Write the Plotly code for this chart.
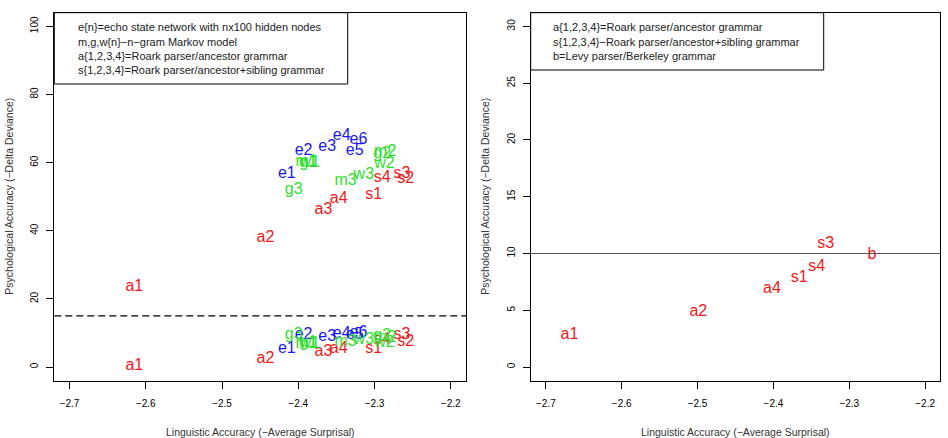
import plotly.graph_objects as go

# ---------------- data ----------------
left_labels = ["a1", "a2", "a3", "a4", "s1", "s2", "s3", "s4",
               "e1", "e2", "e3", "e4", "e5", "e6",
               "m1", "g1", "w1", "m2", "g2", "w2", "m3", "g3", "w3"]
left_x = [-2.615, -2.443, -2.367, -2.347, -2.301, -2.259, -2.264, -2.290,
          -2.415, -2.393, -2.362, -2.343, -2.326, -2.321,
          -2.389, -2.387, -2.385, -2.286, -2.290, -2.287, -2.338, -2.406, -2.314]
left_y_upper = [23.4, 37.8, 46.0, 49.4, 50.4, 55.3, 56.8, 55.6,
                56.8, 63.4, 64.6, 67.7, 63.4, 66.5,
                60.1, 59.8, 59.9, 63.0, 62.6, 59.7, 54.6, 51.9, 56.3]
left_y_lower = [0.2, 2.5, 4.4, 5.4, 5.4, 7.3, 9.3, 7.8,
                5.4, 9.3, 8.8, 9.8, 9.5, 10.0,
                6.9, 7.2, 6.9, 8.4, 9.0, 7.2, 7.3, 9.3, 7.8]
left_threshold = 15

right_labels = ["a1", "a2", "a4", "s1", "s4", "s3", "b"]
right_x = [-2.669, -2.499, -2.402, -2.366, -2.343, -2.331, -2.270]
right_y = [2.8, 4.84, 6.84, 7.87, 8.8, 10.86, 9.9]
right_threshold = 10

x_ticks = [-2.7, -2.6, -2.5, -2.4, -2.3, -2.2]
left_y_ticks = [0, 20, 40, 60, 80, 100]
right_y_ticks = [0, 5, 10, 15, 20, 25, 30]

left_legend = ["e{n}=echo state network with nx100 hidden nodes",
               "m,g,w{n}\u2212n\u2212gram Markov model",
               "a{1,2,3,4}=Roark parser/ancestor grammar",
               "s{1,2,3,4}=Roark parser/ancestor+sibling grammar"]
right_legend = ["a{1,2,3,4}=Roark parser/ancestor grammar",
                "s{1,2,3,4}\u2212Roark parser/ancestor+sibling grammar",
                "b=Levy parser/Berkeley grammar"]

x_title = "Linguistic Accuracy (\u2212Average Surprisal)"
y_title = "Psychological Accuracy (\u2212Delta Deviance)"

# ---------------- style ----------------
RED, BLUE, GREEN = "#f01818", "#1818f0", "#2ee02e"
FONT = "Liberation Sans, Arial, sans-serif"
W, H = 948, 438


def color_of(lbl):
    c = lbl[0]
    if c in "asb":
        return RED
    if c == "e":
        return BLUE
    return GREEN


left_colors = [color_of(l) for l in left_labels]
right_colors = [color_of(l) for l in right_labels]

fig = go.Figure()
for ys in (left_y_upper, left_y_lower):
    fig.add_trace(go.Scatter(x=left_x, y=ys, text=left_labels, mode="text",
                             textposition="middle center",
                             textfont=dict(family=FONT, size=16, color=left_colors),
                             xaxis="x", yaxis="y", showlegend=False, hoverinfo="skip"))
fig.add_trace(go.Scatter(x=right_x, y=right_y, text=right_labels, mode="text",
                         textposition="middle center",
                         textfont=dict(family=FONT, size=16, color=right_colors),
                         xaxis="x2", yaxis="y2", showlegend=False, hoverinfo="skip"))

# pixel geometry of plot boxes
Lx0, Lx1 = 54.3, 466.0
Rx0, Rx1 = 530.7, 940.3
Yt, Yb = 12.7, 380.7
ydom = [(H - Yb) / H, (H - Yt) / H]

axis_common = dict(showgrid=False, zeroline=False, showline=True, mirror=True,
                   linecolor="black", linewidth=1, ticks="outside", ticklen=7,
                   tickcolor="black", tickwidth=1,
                   tickfont=dict(family=FONT, size=10, color="black"))

fig.update_layout(
    width=W, height=H, margin=dict(l=0, r=0, t=0, b=0),
    paper_bgcolor="white", plot_bgcolor="white",
    xaxis=dict(domain=[Lx0 / W, Lx1 / W], range=[-2.72, -2.18], tickvals=x_ticks,
               tickformat=".1f", anchor="y", ticklabelstandoff=6, **axis_common),
    yaxis=dict(domain=ydom, range=[-4, 104], tickvals=left_y_ticks, anchor="x",
               tickangle=-90, ticklabelstandoff=4, **axis_common),
    xaxis2=dict(domain=[Rx0 / W, Rx1 / W], range=[-2.72, -2.18], tickvals=x_ticks,
                tickformat=".1f", anchor="y2", ticklabelstandoff=6, **axis_common),
    yaxis2=dict(domain=ydom, range=[-1.2, 31.2], tickvals=right_y_ticks, anchor="x2",
                tickangle=-90, ticklabelstandoff=4, **axis_common),
)

shapes = [
    dict(type="line", xref="x domain", yref="y", x0=0, x1=1, y0=left_threshold,
         y1=left_threshold, line=dict(color="black", width=1.2, dash="7px,4px")),
    dict(type="line", xref="x2 domain", yref="y2", x0=0, x1=1, y0=right_threshold,
         y1=right_threshold, line=dict(color="#555555", width=1.2)),
    # legend boxes
    dict(type="rect", xref="x domain", yref="y domain", x0=0, x1=(347.7 - Lx0) / (Lx1 - Lx0),
         y0=(Yb - 84.0) / (Yb - Yt), y1=1, line=dict(color="black", width=1),
         fillcolor="white"),
    dict(type="rect", xref="x2 domain", yref="y2 domain", x0=0, x1=(823.7 - Rx0) / (Rx1 - Rx0),
         y0=(Yb - 70.0) / (Yb - Yt), y1=1, line=dict(color="black", width=1),
         fillcolor="white"),
]
fig.update_layout(shapes=shapes)

annotations = []
for i, t in enumerate(left_legend):
    annotations.append(dict(text=t, xref="paper", yref="paper", x=76 / W,
                            y=(H - (27.3 + 14.4 * i)) / H, xanchor="left", yanchor="middle",
                            showarrow=False, font=dict(family=FONT, size=11, color="#222")))
for i, t in enumerate(right_legend):
    annotations.append(dict(text=t, xref="paper", yref="paper", x=551.3 / W,
                            y=(H - (27.3 + 14.4 * i)) / H, xanchor="left", yanchor="middle",
                            showarrow=False, font=dict(family=FONT, size=11, color="#222")))
for cx in ((Lx0 + Lx1) / 2, (Rx0 + Rx1) / 2):
    annotations.append(dict(text=x_title, xref="paper", yref="paper", x=cx / W,
                            y=(H - 431.5) / H, xanchor="center", yanchor="middle",
                            showarrow=False, font=dict(family=FONT, size=10.5, color="#333")))
for cx in (9.0, 485.0):
    annotations.append(dict(text=y_title, xref="paper", yref="paper", x=cx / W,
                            y=(H - (Yt + Yb) / 2) / H, xanchor="center", yanchor="middle",
                            textangle=-90, showarrow=False,
                            font=dict(family=FONT, size=10.5, color="#333")))
fig.update_layout(annotations=annotations)

fig.write_html("out.html")
